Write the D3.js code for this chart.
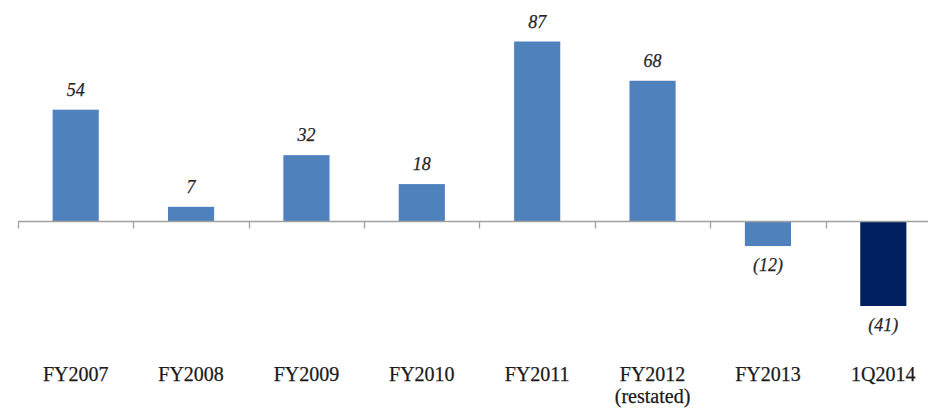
<!DOCTYPE html>
<html>
<head>
<meta charset="utf-8">
<script src="https://cdn.jsdelivr.net/npm/d3@7"></script>
<style>
  html, body { margin: 0; padding: 0; background: #fff; }
  svg { display: block; }
</style>
</head>
<body>
<svg id="chart" width="928" height="411"></svg>
<script>
// Periods along the x axis (second line shown under the first where present)
const categories = ["FY2007", "FY2008", "FY2009", "FY2010", "FY2011", "FY2012", "FY2013", "1Q2014"];
const subLabels  = ["", "", "", "", "", "(restated)", "", ""];
// Values per period
const values = [54, 7, 32, 18, 87, 68, -12, -41];
// Value label text
const valueLabels = ["54", "7", "32", "18", "87", "68", "(12)", "(41)"];

const svg = d3.select("#chart");
const W = 928, H = 411;

const margin = { left: 18, right: -13 };
const x = d3.scaleBand()
  .domain(categories)
  .range([margin.left, W - margin.right])
  .paddingInner(0.6)
  .paddingOuter(0.3);

const step = x.step();

const y = d3.scaleLinear()
  .domain([-41, 87])
  .range([306, 41.5]);

const serif = "'Palatino Linotype', 'Book Antiqua', Palatino, 'Liberation Serif', 'DejaVu Serif', serif";

// bars
svg.append("g")
  .selectAll("rect")
  .data(values)
  .join("rect")
  .attr("x", (d, i) => x(categories[i]))
  .attr("width", x.bandwidth())
  .attr("y", d => y(Math.max(0, d)))
  .attr("height", d => Math.abs(y(d) - y(0)))
  .attr("fill", (d, i) => i === values.length - 1 ? "#002060" : "#4F81BD");

// category axis at zero
const y0 = Math.round(y(0)) + 0.5;
const axisG = svg.append("g");
axisG.append("line")
  .attr("x1", margin.left).attr("x2", W)
  .attr("y1", y0).attr("y2", y0)
  .attr("stroke", "#A0A0A0").attr("stroke-width", 1.3);

// tick marks on the category boundaries
const boundaries = d3.range(categories.length + 1)
  .map(i => x(categories[0]) - step * x.paddingOuter() + i * step);
axisG.selectAll("line.tick")
  .data(boundaries)
  .join("line")
  .attr("class", "tick")
  .attr("x1", d => Math.round(d) + 0.5).attr("x2", d => Math.round(d) + 0.5)
  .attr("y1", y0).attr("y2", y0 + 7)
  .attr("stroke", "#A0A0A0").attr("stroke-width", 1.3);

// value labels
svg.append("g")
  .selectAll("text")
  .data(values)
  .join("text")
  .attr("x", (d, i) => x(categories[i]) + x.bandwidth() / 2)
  .attr("y", d => d >= 0 ? y(d) - 14 : y(d) + 25)
  .attr("text-anchor", "middle")
  .attr("font-family", serif)
  .attr("font-style", "italic")
  .attr("font-size", 18)
  .attr("fill", "#262626")
  .attr("stroke", "#262626")
  .attr("stroke-width", 0.25)
  .text((d, i) => valueLabels[i]);

// category labels
const catG = svg.append("g")
  .selectAll("text")
  .data(categories)
  .join("text")
  .attr("x", d => x(d) + x.bandwidth() / 2)
  .attr("y", 381)
  .attr("text-anchor", "middle")
  .attr("font-family", serif)
  .attr("font-size", 20)
  .attr("fill", "#1a1a1a")
  .attr("stroke", "#1a1a1a")
  .attr("stroke-width", 0.25);
catG.append("tspan").text(d => d);
catG.append("tspan")
  .attr("x", d => x(d) + x.bandwidth() / 2)
  .attr("dy", 22)
  .text((d, i) => subLabels[i]);
</script>
</body>
</html>
